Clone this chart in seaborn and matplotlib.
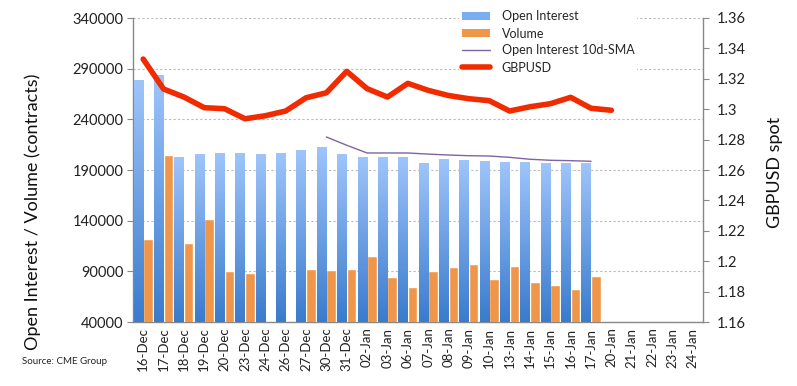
import numpy as np
import pandas as pd
import matplotlib
matplotlib.use("Agg")
import matplotlib.pyplot as plt
import seaborn as sns
from matplotlib.patches import Patch
from matplotlib.lines import Line2D
from matplotlib.ticker import FuncFormatter, FixedLocator

nan = np.nan
dates = ["16-Dec", "17-Dec", "18-Dec", "19-Dec", "20-Dec", "23-Dec", "24-Dec", "26-Dec",
         "27-Dec", "30-Dec", "31-Dec", "02-Jan", "03-Jan", "06-Jan", "07-Jan", "08-Jan",
         "09-Jan", "10-Jan", "13-Jan", "14-Jan", "15-Jan", "16-Jan", "17-Jan", "20-Jan",
         "21-Jan", "22-Jan", "23-Jan", "24-Jan"]
open_interest = [278400, 284000, 203100, 206100, 207100, 207100, 206100, 207100, 210000,
                 213000, 206000, 203000, 203000, 203000, 197200, 201200, 200000, 199000,
                 198000, 198000, 197200, 197200, 197200, nan, nan, nan, nan, nan]
volume = [122200, 204400, 118300, 141900, 90600, 88600, nan, nan, 92600, 91600, 92600,
          105400, 84700, 74800, 90600, 94600, 97500, 82700, 95600, 79700, 76800, 72800,
          85700, nan, nan, nan, nan, nan]
oi_sma = [nan, nan, nan, nan, nan, nan, nan, nan, nan, 222600, 214400, 206800, 206800,
          206800, 205700, 204800, 204100, 203800, 202500, 200600, 199600, 199200, 198600,
          nan, nan, nan, nan, nan]
gbpusd = [1.333, 1.3133, 1.308, 1.301, 1.3003, 1.2937, 1.2957, 1.2988, 1.3075, 1.3108,
          1.3249, 1.3135, 1.308, 1.317, 1.3124, 1.309, 1.3069, 1.3056, 1.2988, 1.3016,
          1.3036, 1.3078, 1.3006, 1.2993, nan, nan, nan, nan]

sns.set_style("white")
plt.rcParams["font.family"] = ["Lato", "DejaVu Sans"]

W, H = 797, 386
fig = plt.figure(figsize=(W / 100, H / 100), dpi=100)
L, R, T, B = 133, 703, 18, 322
ax = fig.add_axes([L / W, 1 - B / H, (R - L) / W, (B - T) / H])

bars = pd.DataFrame({
    "date": dates * 2,
    "series": ["Open Interest"] * len(dates) + ["Volume"] * len(dates),
    "value": open_interest + volume,
})
blue_c = "#7AAEF3"
orange_c = "#F0964A"
sns.barplot(data=bars, x="date", y="value", hue="series", order=dates,
            hue_order=["Open Interest", "Volume"], palette=[blue_c, orange_c],
            width=0.94, saturation=1, errorbar=None, legend=False, ax=ax, zorder=3)

ymin, ymax = 40000, 340000
ax.set_ylim(ymin, ymax)
ax.set_xlim(-0.5, len(dates) - 0.5)

# gradient fill for open interest bars
grad = np.linspace(0, 1, 256).reshape(-1, 1)
cmap = matplotlib.colors.LinearSegmentedColormap.from_list("g", ["#3A7BCD", "#9FC5FB"])
for p in ax.containers[0]:
    h = p.get_height()
    if not np.isfinite(h) or h <= 0:
        continue
    x0 = p.get_x()
    w = p.get_width()
    im = ax.imshow(grad, extent=[x0, x0 + w, ymin, h], origin="lower", cmap=cmap,
                   aspect="auto", zorder=3, interpolation="bicubic")
    im.set_clip_path(p)
    p.set_facecolor("none")
    p.set_edgecolor("none")
ax.set_ylim(ymin, ymax)
ax.set_xlim(-0.5, len(dates) - 0.5)

xs = np.arange(len(dates))
sns.lineplot(x=xs, y=oi_sma, color="#8064A2", linewidth=1.0, ax=ax, zorder=4, legend=False)

ax.set_ylim(ymin, ymax)
ax.set_xlim(-0.5, len(dates) - 0.5)
ax.yaxis.set_major_locator(FixedLocator(np.arange(40000, 340001, 50000)))
ax.yaxis.set_major_formatter(FuncFormatter(lambda v, p: f"{int(v)}"))
ax.grid(axis="y", color="#BBBBBB", linestyle=(0, (2, 2)), linewidth=0.8, zorder=0)
ax.set_axisbelow(True)
ax.set_xticks(xs)
ax.set_xticklabels(dates, rotation=90, fontsize=9.5, color="#222222")
ax.set_xticks(np.arange(-0.5, len(dates)), minor=True)
ax.tick_params(axis="x", which="major", length=0, pad=4)
ax.tick_params(axis="x", which="minor", length=4, color="#888888", width=1)
ax.tick_params(axis="y", which="major", length=4, color="#888888", labelsize=10.5,
               labelcolor="#222222", pad=3, direction="out", left=True)
ax.set_xlabel("")
ax.set_ylabel("")
for s in ["top", "right"]:
    ax.spines[s].set_visible(False)
for s in ["left", "bottom"]:
    ax.spines[s].set_color("#888888")
    ax.spines[s].set_linewidth(1.0)

ax2 = ax.twinx()
sns.lineplot(x=xs, y=gbpusd, color="#F02B00", linewidth=4.0, ax=ax2, legend=False,
             zorder=5, solid_capstyle="round", solid_joinstyle="round")
ax2.set_ylim(1.16, 1.36)
ax2.set_xlim(-0.5, len(dates) - 0.5)
ax2.yaxis.set_major_locator(FixedLocator(np.round(np.arange(1.16, 1.3601, 0.02), 2)))
ax2.yaxis.set_major_formatter(FuncFormatter(
    lambda v, p: f"{v:.2f}".rstrip("0").rstrip(".")))
ax2.tick_params(axis="y", length=4, color="#888888", labelsize=10.5, labelcolor="#222222",
                pad=6, direction="out", right=True)
ax2.set_ylabel("")
for s in ["top", "left", "bottom"]:
    ax2.spines[s].set_visible(False)
ax2.spines["right"].set_color("#888888")
ax2.spines["right"].set_linewidth(1.0)

handles = [
    Patch(facecolor=blue_c, edgecolor="none"),
    Patch(facecolor=orange_c, edgecolor="none"),
    Line2D([], [], color="#8064A2", linewidth=1.0),
    Line2D([], [], color="#F02B00", linewidth=4.0, solid_capstyle="round"),
]
labels = ["Open Interest", "Volume", "Open Interest 10d-SMA", "GBPUSD"]
leg = ax2.legend(handles, labels, loc="upper left", bbox_to_anchor=(459 / W, 1 - 8 / H),
                 bbox_transform=fig.transFigure, frameon=True, fontsize=9,
                 handlelength=2.25, handleheight=0.55, labelspacing=0.4, handletextpad=0.95,
                 borderpad=0.2, borderaxespad=0)
leg.get_frame().set_facecolor("white")
leg.get_frame().set_edgecolor("none")
leg.get_frame().set_alpha(1)

fig.text(33 / W, 1 - 212 / H, "Open Interest / Volume (contracts)", rotation=90,
         ha="center", va="center", fontsize=13, color="#111111")
fig.text(775 / W, 1 - 172 / H, "GBPUSD spot", rotation=90, ha="center", va="center",
         fontsize=13, color="#111111")
fig.text(22 / W, 1 - 362 / H, "Source: CME Group", ha="left", va="center", fontsize=7,
         color="#222222")

fig.savefig("out.png", dpi=100)
